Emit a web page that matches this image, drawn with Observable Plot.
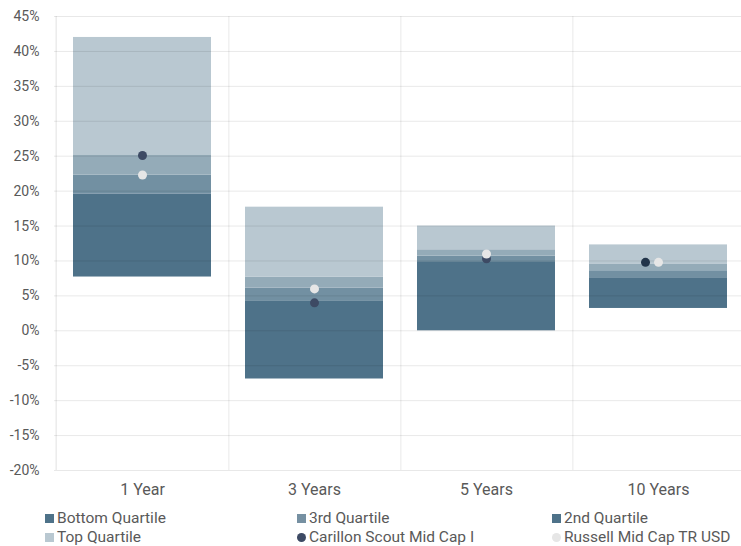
<!DOCTYPE html>
<html>
<head>
<meta charset="utf-8">
<script src="https://cdn.jsdelivr.net/npm/d3@7"></script>
<script src="https://cdn.jsdelivr.net/npm/@observablehq/plot@0.6"></script>
<style>
  html, body { margin: 0; padding: 0; background: #fff; overflow: hidden; }
  body { font-family: Roboto, "Noto Sans", sans-serif; color: #595959; width: 741px; }
  #chart svg { max-width: none !important; }
  #legend { display: grid; grid-template-columns: 252px 255px auto; margin: 9px 0 0 45px; font-size: 15.5px; line-height: 19px; color: #595959; }
  .item { display: flex; align-items: center; white-space: nowrap; }
  .sw { width: 9px; height: 9px; margin-right: 3px; flex: none; }
  .dot { border-radius: 50%; }
</style>
</head>
<body>
<div id="chart"></div>
<div id="legend"></div>
<script>
const categories = ["1 Year", "3 Years", "5 Years", "10 Years"];
const lowEnd      = [7.7, -6.9, 0.0, 3.2];
const bottomTop   = [19.6, 4.3, 9.9, 7.6];
const thirdTop    = [22.3, 6.1, 10.7, 8.6];
const secondTop   = [25.1, 7.7, 11.6, 9.5];
const topEnd      = [42.0, 17.7, 15.0, 12.3];
const fund        = [25.1, 4.0, 10.3, 9.8];
const benchmark   = [22.3, 6.0, 11.0, 9.8];
const yTicks = [-20, -15, -10, -5, 0, 5, 10, 15, 20, 25, 30, 35, 40, 45];

const segNames = ["Bottom Quartile", "3rd Quartile", "2nd Quartile", "Top Quartile"];
const segFill = ["#4e7289", "#7290a2", "#94abb8", "#b9c8d1"];
const legendFill = ["#4e7289", "#7690a2", "#4e7289", "#b9c8d1"];
const fundColor = "#3d4a64";
const benchColor = "#e6e6e6";

const segments = [];
categories.forEach((c, i) => {
  const bounds = [lowEnd[i], bottomTop[i], thirdTop[i], secondTop[i], topEnd[i]];
  for (let k = 0; k < 4; k++) segments.push({cat: c, seg: segNames[k], y1: bounds[k], y2: bounds[k + 1]});
});
const pts = categories.map((c, i) => ({cat: c, fund: fund[i], bench: benchmark[i]}));

const W = 745, ML = 54;
const step = (W - ML) / categories.length;

const chart = Plot.plot({
  width: W, height: 500,
  marginLeft: ML, marginRight: 0, marginTop: 16, marginBottom: 30,
  style: {fontFamily: "Roboto, sans-serif", fontSize: "14px", color: "#595959", background: "#fff"},
  x: {domain: categories, paddingInner: 0.2, paddingOuter: 0.1, label: null, tickSize: 0, tickPadding: 12},
  y: {domain: [-20, 45], ticks: yTicks, tickFormat: d => d + "%", label: null, tickSize: 0, tickPadding: 15},
  color: {domain: segNames, range: segFill},
  marks: [
    Plot.barY(segments, {x: "cat", y1: "y1", y2: "y2", fill: "seg"}),
    Plot.ruleY(yTicks, {stroke: "#000", strokeOpacity: 0.09, strokeWidth: 1}),
    Plot.ruleX(categories.slice(0, -1), {x: d => d, dx: step / 2, y1: -20, y2: 45, stroke: "#000", strokeOpacity: 0.09}),
    Plot.ruleX(categories.slice(0, 1), {x: d => d, dx: -step / 2, y1: -20, y2: 45, stroke: "#000", strokeOpacity: 0.12}),
    Plot.dot(pts.filter(d => d.cat !== "10 Years"), {x: "cat", y: "fund", r: 4.5, fill: fundColor}),
    Plot.dot(pts.filter(d => d.cat === "10 Years"), {x: "cat", y: "fund", r: 4.5, fill: "#22354a", dx: -13}),
    Plot.dot(pts, {x: "cat", y: "bench", r: 4.5, fill: benchColor}),
    Plot.axisX({tickSize: 0, tickPadding: 13, fontSize: 16, label: null})
  ]
});
document.getElementById("chart").appendChild(chart);

const legendItems = [
  {label: "Bottom Quartile", color: legendFill[0], dot: false},
  {label: "3rd Quartile", color: legendFill[1], dot: false},
  {label: "2nd Quartile", color: legendFill[2], dot: false},
  {label: "Top Quartile", color: legendFill[3], dot: false},
  {label: "Carillon Scout Mid Cap I", color: fundColor, dot: true},
  {label: "Russell Mid Cap TR USD", color: benchColor, dot: true}
];
const lg = document.getElementById("legend");
legendItems.forEach(it => {
  const d = document.createElement("div");
  d.className = "item";
  const s = document.createElement("span");
  s.className = "sw" + (it.dot ? " dot" : "");
  s.style.background = it.color;
  d.appendChild(s);
  d.appendChild(document.createTextNode(it.label));
  lg.appendChild(d);
});
</script>
</body>
</html>
